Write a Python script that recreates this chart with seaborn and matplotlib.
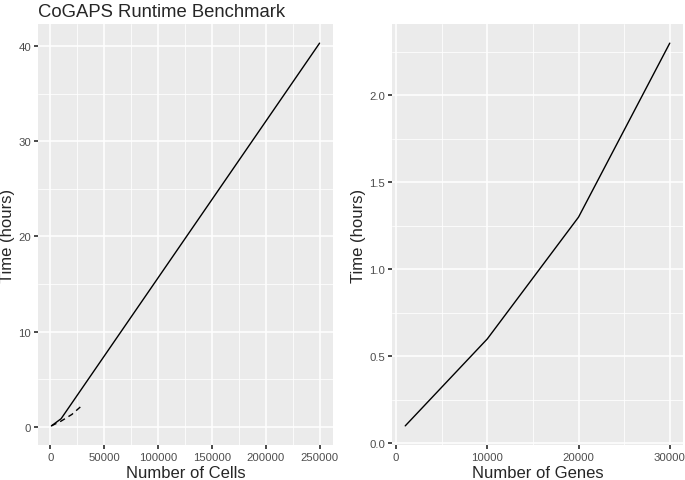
import numpy as np
import pandas as pd
import matplotlib
matplotlib.use('Agg')
import matplotlib.pyplot as plt
import seaborn as sns
from matplotlib.ticker import MultipleLocator, FormatStrFormatter

# runtime vs number of cells
cells_n = [1000, 10000, 250000]
cells_hours = [0.1, 0.85, 40.3]

# runtime vs number of genes
genes_n = [1000, 10000, 20000, 30000]
genes_hours = [0.1, 0.6, 1.3, 2.3]

sns.set_theme(style='darkgrid', rc={
    'axes.facecolor': '#EBEBEB',
    'grid.color': 'white',
    'axes.edgecolor': 'white',
    'axes.linewidth': 0,
    'xtick.bottom': True,
    'ytick.left': True,
    'xtick.color': '#333333',
    'ytick.color': '#333333',
    'xtick.labelcolor': '#4D4D4D',
    'ytick.labelcolor': '#4D4D4D',
    'xtick.major.size': 3,
    'ytick.major.size': 3,
    'xtick.major.pad': 2,
    'ytick.major.pad': 2,
})
plt.rcParams['font.family'] = ['Liberation Sans', 'DejaVu Sans']

cells = pd.DataFrame({'n': cells_n, 'hours': cells_hours})
genes = pd.DataFrame({'n': genes_n, 'hours': genes_hours})

fig = plt.figure(figsize=(6.85, 4.81), dpi=100)
ax1 = fig.add_axes([38 / 685, 35 / 481, 295 / 685, 421 / 481])
ax2 = fig.add_axes([392 / 685, 35 / 481, 291 / 685, 421 / 481])

def expand(lo, hi):
    d = (hi - lo) * 0.05
    return lo - d, hi + d

sns.lineplot(data=cells, x='n', y='hours', ax=ax1, color='black', lw=1.0)
sns.lineplot(data=genes, x='n', y='hours', ax=ax1, color='black', lw=1.0,
             linestyle=(0, (4, 3)))
ax1.set_xlim(*expand(1000, 250000))
ax1.set_ylim(*expand(0.1, 40.3))
ax1.xaxis.set_major_locator(MultipleLocator(50000))
ax1.xaxis.set_minor_locator(MultipleLocator(25000))
ax1.yaxis.set_major_locator(MultipleLocator(10))
ax1.yaxis.set_minor_locator(MultipleLocator(5))
ax1.set_xlabel('Number of Cells', fontsize=12)
ax1.set_ylabel('Time (hours)', fontsize=12)
ax1.set_title('CoGAPS Runtime Benchmark', fontsize=13.3, loc='left', pad=6)

sns.lineplot(data=genes, x='n', y='hours', ax=ax2, color='black', lw=1.0)
ax2.set_xlim(*expand(1000, 30000))
ax2.set_ylim(*expand(0.1, 2.3))
ax2.xaxis.set_major_locator(MultipleLocator(10000))
ax2.xaxis.set_minor_locator(MultipleLocator(5000))
ax2.yaxis.set_major_locator(MultipleLocator(0.5))
ax2.yaxis.set_minor_locator(MultipleLocator(0.25))
ax2.yaxis.set_major_formatter(FormatStrFormatter('%.1f'))
ax2.set_xlabel('Number of Genes', fontsize=12)
ax2.set_ylabel('Time (hours)', fontsize=12)

for ax in (ax1, ax2):
    ax.grid(which='major', color='white', lw=1.1)
    ax.grid(which='minor', color='white', lw=0.55)
    ax.tick_params(which='minor', length=0)
    ax.tick_params(labelsize=8.2)
    ax.xaxis.labelpad = 2.5
    ax.yaxis.labelpad = 2.5
    for s in ax.spines.values():
        s.set_visible(False)

fig.savefig('out.png', dpi=100)
